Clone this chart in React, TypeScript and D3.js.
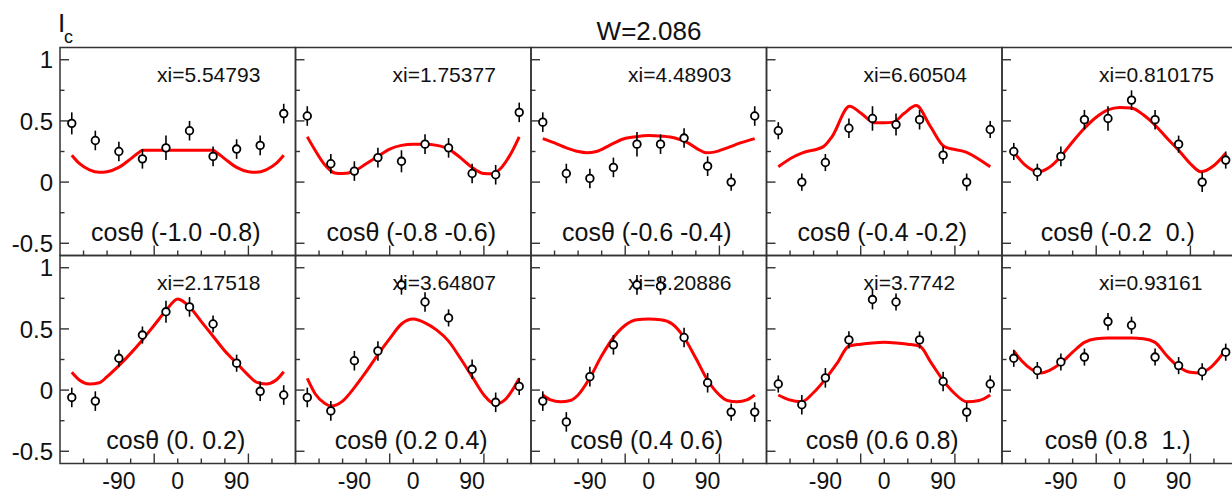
import React from "react";
import * as d3 from "d3";

const binCenters = [-162, -126, -90, -54, -18, 18, 54, 90, 126, 162];

const cosRanges = [
  "(-1.0 -0.8)", "(-0.8 -0.6)", "(-0.6 -0.4)", "(-0.4 -0.2)", "(-0.2  0.)",
  "(0. 0.2)", "(0.2 0.4)", "(0.4 0.6)", "(0.6 0.8)", "(0.8  1.)",
];

const xiLabels = [
  "xi=5.54793", "xi=1.75377", "xi=4.48903", "xi=6.60504", "xi=0.810175",
  "xi=2.17518", "xi=3.64807", "xi=8.20886", "xi=3.7742", "xi=0.93161",
];

const pointValues = [
  [0.48, 0.34, 0.25, 0.19, 0.28, 0.42, 0.21, 0.27, 0.30, 0.56],
  [0.54, 0.15, 0.09, 0.20, 0.17, 0.31, 0.28, 0.07, 0.06, 0.57],
  [0.49, 0.07, 0.03, 0.12, 0.31, 0.31, 0.36, 0.13, 0.00, 0.54],
  [0.42, 0.00, 0.16, 0.44, 0.52, 0.47, 0.51, 0.22, 0.00, 0.43],
  [0.25, 0.08, 0.21, 0.51, 0.52, 0.67, 0.51, 0.31, 0.00, 0.18],
  [-0.06, -0.09, 0.26, 0.45, 0.64, 0.68, 0.54, 0.22, -0.01, -0.04],
  [-0.06, -0.17, 0.24, 0.32, 0.86, 0.72, 0.59, 0.17, -0.10, 0.03],
  [-0.09, -0.26, 0.11, 0.37, 0.86, 0.85, 0.43, 0.06, -0.18, -0.18],
  [0.05, -0.12, 0.10, 0.41, 0.74, 0.72, 0.41, 0.07, -0.18, 0.05],
  [0.26, 0.16, 0.23, 0.27, 0.56, 0.53, 0.27, 0.20, 0.15, 0.31],
];

const pointErrors = [
  [0.09, 0.08, 0.08, 0.08, 0.10, 0.08, 0.08, 0.08, 0.08, 0.08],
  [0.08, 0.08, 0.08, 0.08, 0.09, 0.08, 0.08, 0.08, 0.08, 0.08],
  [0.08, 0.08, 0.08, 0.08, 0.10, 0.08, 0.08, 0.08, 0.07, 0.08],
  [0.07, 0.07, 0.07, 0.08, 0.10, 0.09, 0.08, 0.07, 0.07, 0.07],
  [0.07, 0.07, 0.08, 0.08, 0.10, 0.08, 0.08, 0.07, 0.08, 0.07],
  [0.08, 0.08, 0.07, 0.07, 0.09, 0.08, 0.07, 0.07, 0.08, 0.08],
  [0.08, 0.08, 0.08, 0.08, 0.08, 0.08, 0.07, 0.08, 0.08, 0.07],
  [0.08, 0.08, 0.08, 0.08, 0.08, 0.07, 0.08, 0.08, 0.07, 0.08],
  [0.07, 0.08, 0.08, 0.07, 0.08, 0.07, 0.07, 0.08, 0.08, 0.07],
  [0.07, 0.07, 0.07, 0.07, 0.07, 0.07, 0.07, 0.07, 0.07, 0.07],
];

const fitCurves: [number, number][][] = [
  [[-162, 0.22], [-150, 0.15], [-135, 0.10], [-120, 0.08], [-108, 0.085], [-90, 0.12], [-72, 0.19], [-60, 0.24], [-54, 0.26], [0, 0.26], [54, 0.26], [60, 0.24], [72, 0.19], [90, 0.12], [108, 0.085], [120, 0.08], [135, 0.10], [150, 0.15], [162, 0.22]],
  [[-162, 0.37], [-150, 0.26], [-135, 0.14], [-120, 0.075], [-108, 0.07], [-90, 0.09], [-72, 0.15], [-54, 0.21], [-36, 0.27], [-18, 0.30], [0, 0.31], [18, 0.31], [36, 0.30], [54, 0.27], [72, 0.20], [90, 0.12], [108, 0.07], [120, 0.068], [135, 0.12], [150, 0.24], [162, 0.37]],
  [[-162, 0.355], [-144, 0.32], [-126, 0.28], [-108, 0.25], [-95, 0.24], [-80, 0.25], [-60, 0.30], [-40, 0.35], [-20, 0.37], [0, 0.38], [20, 0.375], [40, 0.36], [60, 0.32], [75, 0.27], [88, 0.24], [100, 0.245], [120, 0.28], [140, 0.32], [162, 0.355]],
  [[-162, 0.125], [-139, 0.205], [-124, 0.24], [-93, 0.29], [-80, 0.37], [-53, 0.62], [-35, 0.56], [-15, 0.485], [0, 0.485], [14, 0.49], [30, 0.56], [49, 0.625], [70, 0.46], [92, 0.29], [125, 0.245], [162, 0.125]],
  [[-162, 0.245], [-145, 0.14], [-125, 0.085], [-108, 0.12], [-90, 0.21], [-72, 0.33], [-54, 0.44], [-36, 0.53], [-18, 0.59], [0, 0.61], [18, 0.605], [36, 0.55], [54, 0.465], [72, 0.36], [90, 0.26], [108, 0.15], [124, 0.085], [145, 0.14], [162, 0.235]],
  [[-162, 0.145], [-150, 0.08], [-135, 0.05], [-120, 0.06], [-108, 0.11], [-90, 0.20], [-72, 0.30], [-54, 0.41], [-36, 0.53], [-18, 0.65], [0, 0.745], [18, 0.68], [36, 0.56], [54, 0.44], [72, 0.32], [90, 0.22], [108, 0.12], [120, 0.065], [135, 0.05], [150, 0.08], [162, 0.15]],
  [[-162, 0.095], [-150, -0.03], [-135, -0.11], [-126, -0.13], [-108, -0.09], [-90, 0.02], [-72, 0.15], [-54, 0.29], [-36, 0.42], [-18, 0.54], [0, 0.58], [18, 0.55], [36, 0.49], [54, 0.40], [72, 0.26], [90, 0.11], [108, -0.04], [125, -0.115], [140, -0.08], [162, 0.095]],
  [[-162, -0.04], [-150, -0.08], [-135, -0.095], [-120, -0.085], [-108, -0.04], [-90, 0.10], [-72, 0.28], [-54, 0.43], [-36, 0.53], [-18, 0.575], [0, 0.58], [18, 0.575], [36, 0.54], [54, 0.43], [72, 0.26], [90, 0.08], [108, -0.04], [120, -0.085], [135, -0.095], [150, -0.08], [162, -0.04]],
  [[-162, -0.04], [-145, -0.08], [-126, -0.095], [-108, -0.02], [-90, 0.09], [-72, 0.22], [-54, 0.36], [-36, 0.375], [-18, 0.385], [0, 0.39], [18, 0.385], [36, 0.375], [54, 0.36], [72, 0.22], [90, 0.08], [108, -0.03], [126, -0.095], [145, -0.085], [162, -0.04]],
  [[-162, 0.32], [-150, 0.24], [-135, 0.17], [-120, 0.14], [-108, 0.16], [-90, 0.22], [-72, 0.31], [-54, 0.39], [-36, 0.42], [-18, 0.425], [0, 0.425], [18, 0.425], [36, 0.42], [54, 0.39], [72, 0.28], [90, 0.19], [108, 0.145], [122, 0.14], [140, 0.19], [162, 0.33]],
];

const yMajorTicks = [-0.5, 0, 0.5, 1];
const yMinorTicks = [-0.25, 0.25, 0.75];
const yTickLabels = ["-0.5", "0", "0.5", "1"];
const xTicks = [-144, -108, -72, -36, 0, 36, 72, 108, 144];
const xLongTicks = [-36, 108];
const xLabelTicks = [-90, 0, 90];
const xTickLabels = ["-90", "0", "90"];

const W = 1232;
const H = 496;
const LEFT0 = 60;
const COLW = 235.5;
const TOP0 = 47.5;
const ROWH = 208;
const FONT = "'Liberation Sans', Arial, Helvetica, sans-serif";
const FRAME = "#333";

export default function App() {
  const panels = pointValues.map((vals, i) => {
    const col = i % 5;
    const row = Math.floor(i / 5);
    const left = LEFT0 + col * COLW;
    const top = TOP0 + row * ROWH;
    const x = d3.scaleLinear().domain([-180, 180]).range([left, left + COLW]);
    const y = d3.scaleLinear().domain([-0.6, 1.1]).range([top + ROWH, top]);
    const line = d3
      .line<[number, number]>()
      .x((d) => x(d[0]))
      .y((d) => y(d[1]))
      .curve(d3.curveMonotoneX);
    const bottom = top + ROWH;
    return (
      <g key={i}>
        <rect x={left} y={top} width={COLW} height={ROWH} fill="none" stroke={FRAME} strokeWidth={1.5} />
        {yMajorTicks.map((t) => (
          <line key={"ym" + t} x1={left} x2={left + 9} y1={y(t)} y2={y(t)} stroke={FRAME} strokeWidth={1.4} />
        ))}
        {yMinorTicks.map((t) => (
          <line key={"yn" + t} x1={left} x2={left + 4.5} y1={y(t)} y2={y(t)} stroke={FRAME} strokeWidth={1.4} />
        ))}
        {xTicks.map((t) => (
          <line key={"xt" + t} x1={x(t)} x2={x(t)} y1={bottom} y2={bottom - (xLongTicks.includes(t) ? 10 : 5)} stroke={FRAME} strokeWidth={1.4} />
        ))}
        {col === 0 &&
          yMajorTicks.map((t, k) => (
            <text key={"yl" + t} x={53} y={y(t)} dy="0.36em" textAnchor="end" fontSize={24} fontFamily={FONT} fill="#111">
              {yTickLabels[k]}
            </text>
          ))}
        {row === 1 &&
          xLabelTicks.map((t, k) => (
            <text key={"xl" + t} x={x(t)} y={489} textAnchor="middle" fontSize={23} fontFamily={FONT} fill="#111">
              {xTickLabels[k]}
            </text>
          ))}
        <text x={left + 97} y={top + 34.5} fontSize={21} fontFamily={FONT} fill="#111">
          {xiLabels[i]}
        </text>
        <text x={left + COLW / 2 - 2} y={top + 193} textAnchor="middle" fontSize={25} fontFamily={FONT} fill="#111" style={{ whiteSpace: "pre" }}>
          {"cos\u03b8 " + cosRanges[i]}
        </text>
        <path d={line(fitCurves[i]) || ""} fill="none" stroke="#f00" strokeWidth={3} />
        {vals.map((v, k) => {
          const e = pointErrors[i][k];
          return (
            <g key={"p" + k}>
              <line x1={x(binCenters[k])} x2={x(binCenters[k])} y1={y(v - e)} y2={y(v + e)} stroke="#000" strokeWidth={1.6} />
              <circle cx={x(binCenters[k])} cy={y(v)} r={3.8} fill="#fff" stroke="#000" strokeWidth={1.8} />
            </g>
          );
        })}
      </g>
    );
  });

  return (
    <svg width={W} height={H} style={{ position: "absolute", left: 0, top: 0, background: "#fff" }}>
      <rect x={0} y={0} width={W} height={H} fill="#fff" />
      <text x={649} y={40} textAnchor="middle" fontSize={26} fontFamily={FONT} fill="#111">
        W=2.086
      </text>
      <text x={58} y={32} fontSize={26} fontFamily={FONT} fill="#111">I</text>
      <text x={64} y={43} fontSize={18} fontFamily={FONT} fill="#111">c</text>
      {panels}
    </svg>
  );
}
